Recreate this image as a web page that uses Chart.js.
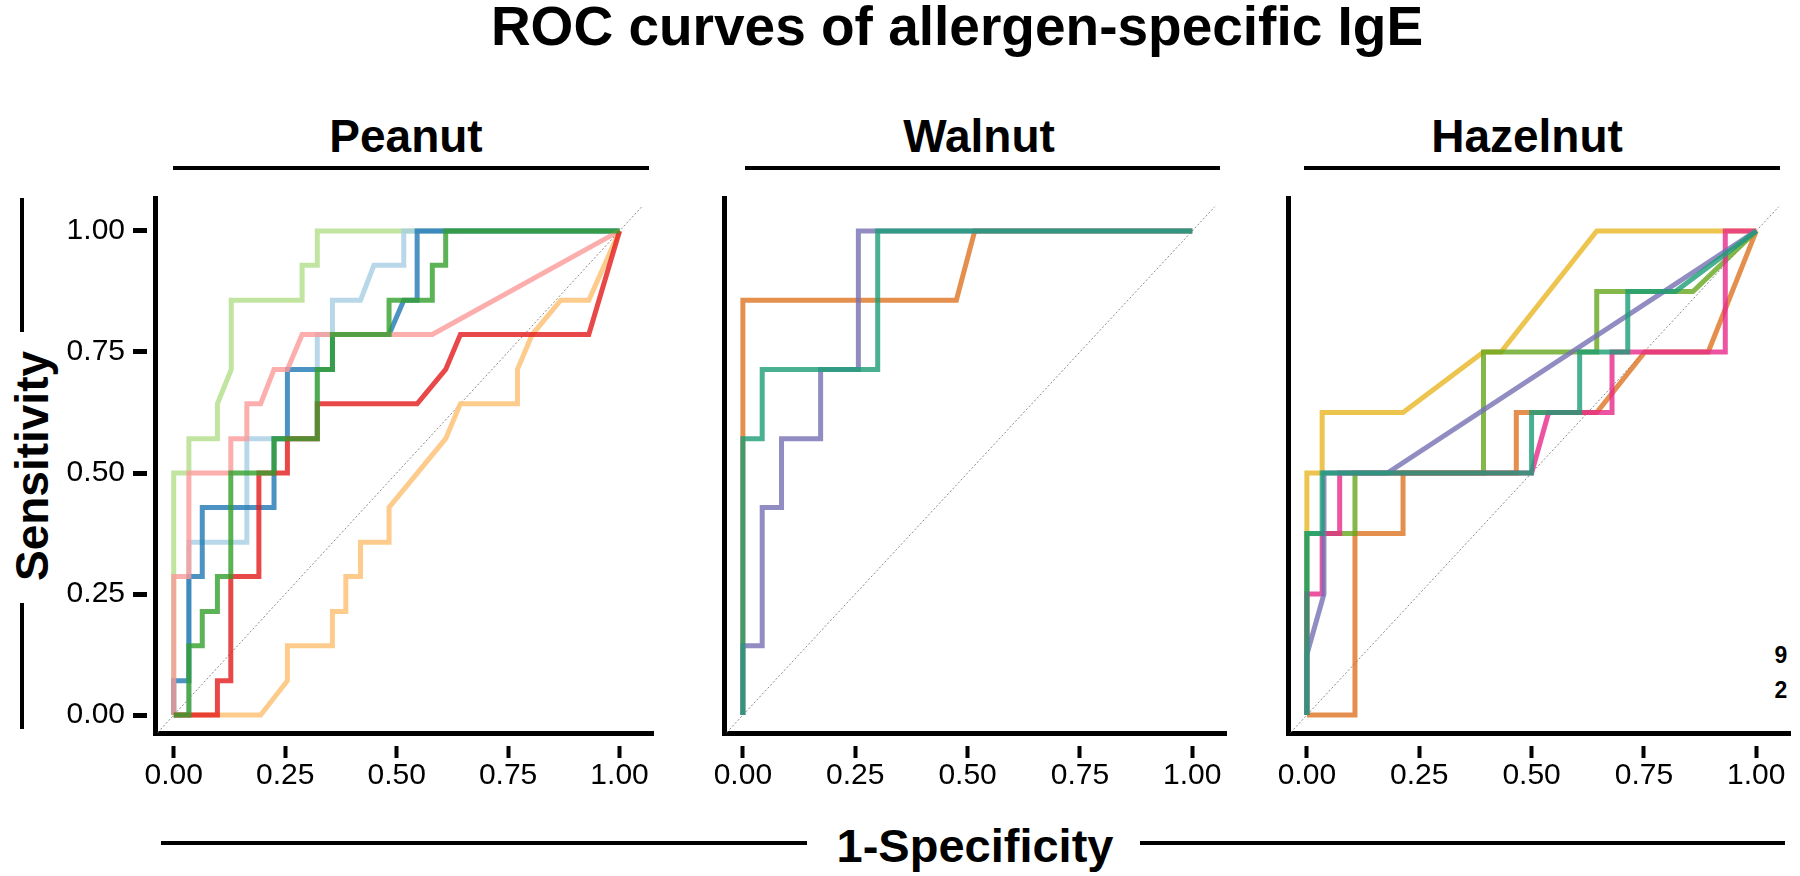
<!DOCTYPE html>
<html>
<head>
<meta charset="utf-8">
<script src="https://cdn.jsdelivr.net/npm/chart.js@4.4.1/dist/chart.umd.min.js"></script>
<style>
  html, body { margin: 0; padding: 0; background: #fff; }
  #page { position: relative; width: 1800px; height: 876px; overflow: hidden; font-family: 'Liberation Sans', Arial, sans-serif; color: #000; }
  canvas { position: absolute; }
  .txt { position: absolute; line-height: 1; white-space: nowrap; font-weight: bold; transform: translateX(-50%); }
  .rule { position: absolute; background: #000; }
</style>
</head>
<body>
<div id="page">
  <div class="txt" style="left:957px;top:-1px;font-size:55px">ROC curves of allergen-specific IgE</div>

  <div class="txt" style="left:406px;top:113px;font-size:46px">Peanut</div>
  <div class="txt" style="left:979px;top:113px;font-size:46px">Walnut</div>
  <div class="txt" style="left:1527px;top:113px;font-size:46px">Hazelnut</div>
  <div class="rule" style="left:173px;top:166px;width:476px;height:4px"></div>
  <div class="rule" style="left:745px;top:166px;width:475px;height:4px"></div>
  <div class="rule" style="left:1304px;top:166px;width:476px;height:4px"></div>

  <div class="txt" style="left:32px;top:466px;font-size:46px;transform:translate(-50%,-50%) rotate(-90deg)">Sensitivity</div>
  <div class="rule" style="left:20px;top:198px;width:4px;height:134px"></div>
  <div class="rule" style="left:20px;top:603px;width:4px;height:126px"></div>

  <div class="txt" style="left:975px;top:822px;font-size:47px">1-Specificity</div>
  <div class="rule" style="left:161px;top:841px;width:646px;height:4px"></div>
  <div class="rule" style="left:1140px;top:841px;width:645px;height:4px"></div>

  <div class="txt" style="left:1781px;top:644px;font-size:23px">9</div>
  <div class="txt" style="left:1781px;top:679px;font-size:23px">2</div>

  <canvas id="peanut" width="600" height="620" style="left:60px;top:190px"></canvas>
  <canvas id="walnut" width="540" height="620" style="left:700px;top:190px"></canvas>
  <canvas id="hazelnut" width="536" height="620" style="left:1264px;top:190px"></canvas>
</div>
<script>
const X_TICKS = [0, 0.25, 0.5, 0.75, 1];
const X_TICK_LABELS = ['0.00', '0.25', '0.50', '0.75', '1.00'];
const Y_TICKS = [0, 0.25, 0.5, 0.75, 1];
const Y_TICK_LABELS = ['0.00', '0.25', '0.50', '0.75', '1.00'];
const DIAGONAL = [[-0.06, -0.06], [1.05, 1.05]];

// peanut: [1-specificity, sensitivity]
const peanutLightGreen = [[0, 0], [0, 0.5], [0.034, 0.5], [0.034, 0.571], [0.098, 0.571], [0.098, 0.643], [0.129, 0.714], [0.129, 0.857], [0.288, 0.857], [0.288, 0.929], [0.322, 0.929], [0.322, 1], [1, 1]];
const peanutLightBlue = [[0, 0], [0.034, 0], [0.034, 0.357], [0.164, 0.357], [0.164, 0.571], [0.225, 0.571], [0.322, 0.571], [0.322, 0.786], [0.356, 0.786], [0.356, 0.857], [0.419, 0.857], [0.449, 0.929], [0.516, 0.929], [0.516, 1], [1, 1]];
const peanutDarkBlue = [[0, 0], [0, 0.071], [0.034, 0.071], [0.034, 0.286], [0.064, 0.286], [0.064, 0.429], [0.225, 0.429], [0.225, 0.571], [0.255, 0.571], [0.255, 0.714], [0.356, 0.714], [0.356, 0.786], [0.483, 0.786], [0.516, 0.857], [0.546, 0.857], [0.546, 1], [1, 1]];
const peanutDarkGreen = [[0, 0], [0.034, 0], [0.034, 0.143], [0.064, 0.143], [0.064, 0.214], [0.098, 0.214], [0.098, 0.286], [0.128, 0.286], [0.128, 0.5], [0.225, 0.5], [0.225, 0.571], [0.322, 0.571], [0.322, 0.714], [0.356, 0.714], [0.356, 0.786], [0.483, 0.786], [0.483, 0.857], [0.58, 0.857], [0.58, 0.929], [0.61, 0.929], [0.61, 1], [1, 1]];
const peanutPink = [[0, 0], [0, 0.286], [0.034, 0.286], [0.034, 0.5], [0.128, 0.5], [0.128, 0.571], [0.164, 0.571], [0.164, 0.643], [0.195, 0.643], [0.225, 0.714], [0.255, 0.714], [0.288, 0.786], [0.58, 0.786], [1, 1]];
const peanutRed = [[0, 0], [0.098, 0], [0.098, 0.071], [0.128, 0.071], [0.128, 0.286], [0.191, 0.286], [0.191, 0.5], [0.255, 0.5], [0.255, 0.571], [0.322, 0.571], [0.322, 0.643], [0.546, 0.643], [0.61, 0.714], [0.643, 0.786], [0.931, 0.786], [1, 1]];
const peanutOrange = [[0, 0], [0.195, 0], [0.255, 0.071], [0.255, 0.143], [0.356, 0.143], [0.356, 0.214], [0.386, 0.214], [0.386, 0.286], [0.419, 0.286], [0.419, 0.357], [0.483, 0.357], [0.483, 0.429], [0.61, 0.571], [0.643, 0.643], [0.771, 0.643], [0.771, 0.714], [0.804, 0.786], [0.868, 0.857], [0.931, 0.857], [1, 1]];

const walnutOrange = [[0, 0], [0, 0.857], [0.475, 0.857], [0.516, 1], [1, 1]];
const walnutPurple = [[0, 0], [0, 0.143], [0.043, 0.143], [0.043, 0.429], [0.086, 0.429], [0.086, 0.571], [0.173, 0.571], [0.173, 0.714], [0.257, 0.714], [0.257, 1], [1, 1]];
const walnutTeal = [[0, 0], [0, 0.571], [0.043, 0.571], [0.043, 0.714], [0.3, 0.714], [0.3, 1], [1, 1]];

const hazelYellow = [[0, 0], [0, 0.5], [0.034, 0.5], [0.034, 0.625], [0.214, 0.625], [0.393, 0.75], [0.432, 0.75], [0.645, 1], [1, 1]];
const hazelOrange = [[0, 0], [0.107, 0], [0.107, 0.375], [0.214, 0.375], [0.214, 0.5], [0.466, 0.5], [0.466, 0.625], [0.645, 0.625], [0.752, 0.75], [0.893, 0.75], [1, 1]];
const hazelPink = [[0, 0], [0, 0.25], [0.034, 0.25], [0.034, 0.375], [0.073, 0.375], [0.073, 0.5], [0.5, 0.5], [0.538, 0.625], [0.679, 0.625], [0.679, 0.75], [0.931, 0.75], [0.931, 1], [1, 1]];
const hazelGreen = [[0, 0], [0, 0.375], [0.107, 0.375], [0.107, 0.5], [0.393, 0.5], [0.393, 0.75], [0.645, 0.75], [0.645, 0.875], [0.859, 0.875], [1, 1]];
const hazelTeal = [[0, 0], [0, 0.375], [0.034, 0.375], [0.034, 0.5], [0.5, 0.5], [0.5, 0.625], [0.607, 0.625], [0.607, 0.75], [0.714, 0.75], [0.714, 0.875], [0.82, 0.875], [1, 1]];
const hazelPurple = [[0, 0], [0, 0.125], [0.038, 0.25], [0.038, 0.5], [0.179, 0.5], [1, 1]];

const peanutCurves = [peanutDarkGreen, peanutRed, peanutPink, peanutDarkBlue, peanutLightBlue, peanutLightGreen, peanutOrange];
const peanutColors = ['rgba(51,160,44,0.8)', 'rgba(227,26,28,0.8)', 'rgba(251,154,153,0.8)', 'rgba(31,120,180,0.8)', 'rgba(166,206,227,0.8)', 'rgba(178,223,138,0.8)', 'rgba(253,191,111,0.8)'];
const walnutCurves = [walnutTeal, walnutPurple, walnutOrange];
const walnutColors = ['rgba(27,158,119,0.8)', 'rgba(117,112,179,0.8)', 'rgba(217,95,2,0.7)'];
const hazelCurves = [hazelTeal, hazelPurple, hazelPink, hazelGreen, hazelOrange, hazelYellow];
const hazelColors = ['rgba(27,158,119,0.8)', 'rgba(117,112,179,0.8)', 'rgba(231,41,138,0.8)', 'rgba(102,166,30,0.8)', 'rgba(217,95,2,0.7)', 'rgba(230,171,2,0.7)'];

const FONT = "'Liberation Sans', Arial, sans-serif";

// keep every panel's plot box the same, whatever the tick labels need
const noPad = axis => {
  axis.paddingTop = 0;
  axis.paddingBottom = 0;
  axis.paddingLeft = 0;
  axis.paddingRight = 0;
};

const makePanel = (id, curves, colors, showY, padRight) => {
  const datasets = curves.map((pts, i) => ({
    data: pts.map(([x, y]) => ({ x, y })),
    borderColor: colors[i],
    borderWidth: 5,
    borderJoinStyle: 'miter',
    pointRadius: 0,
    tension: 0,
    fill: false,
  }));
  datasets.push({
    data: DIAGONAL.map(([x, y]) => ({ x, y })),
    borderColor: '#8a8a8a',
    borderWidth: 1,
    borderDash: [2, 2],
    pointRadius: 0,
  });

  return new Chart(document.getElementById(id), {
    type: 'line',
    data: { datasets },
    options: {
      responsive: false,
      animation: false,
      devicePixelRatio: 1,
      layout: { padding: { left: 0, top: 8, right: padRight, bottom: 0 } },
      plugins: { legend: { display: false }, tooltip: { enabled: false } },
      scales: {
        x: {
          type: 'linear',
          min: -0.042,
          max: 1.075,
          afterBuildTicks: axis => { axis.ticks = X_TICKS.map(value => ({ value })); },
          afterFit: axis => { axis.height = 77; noPad(axis); },
          border: { display: true, color: '#000', width: 5 },
          grid: {
            display: true,
            drawOnChartArea: false,
            tickLength: 25,
            tickWidth: 4,
            tickColor: '#000',
            tickBorderDash: [0, 10, 13, 100],
          },
          ticks: {
            color: '#000',
            padding: 0,
            maxRotation: 0,
            font: { family: FONT, size: 30 },
            callback: (v, i) => X_TICK_LABELS[i],
          },
        },
        y: {
          type: 'linear',
          min: -0.037,
          max: 1.068,
          afterBuildTicks: axis => { axis.ticks = Y_TICKS.map(value => ({ value })); },
          afterFit: axis => { axis.width = showY ? 95 : 24; noPad(axis); },
          border: { display: true, color: '#000', width: 5 },
          grid: {
            display: showY,
            drawOnChartArea: false,
            tickLength: 22,
            tickWidth: 5,
            tickColor: '#000',
            tickBorderDash: [14, 100],
          },
          ticks: {
            display: showY,
            color: '#000',
            padding: 8,
            font: { family: FONT, size: 30 },
            callback: (v, i) => Y_TICK_LABELS[i],
          },
        },
      },
    },
  });
};

makePanel('peanut', peanutCurves, peanutColors, true, 7);
makePanel('walnut', walnutCurves, walnutColors, false, 14);
makePanel('hazelnut', hazelCurves, hazelColors, false, 10);
</script>
</body>
</html>
